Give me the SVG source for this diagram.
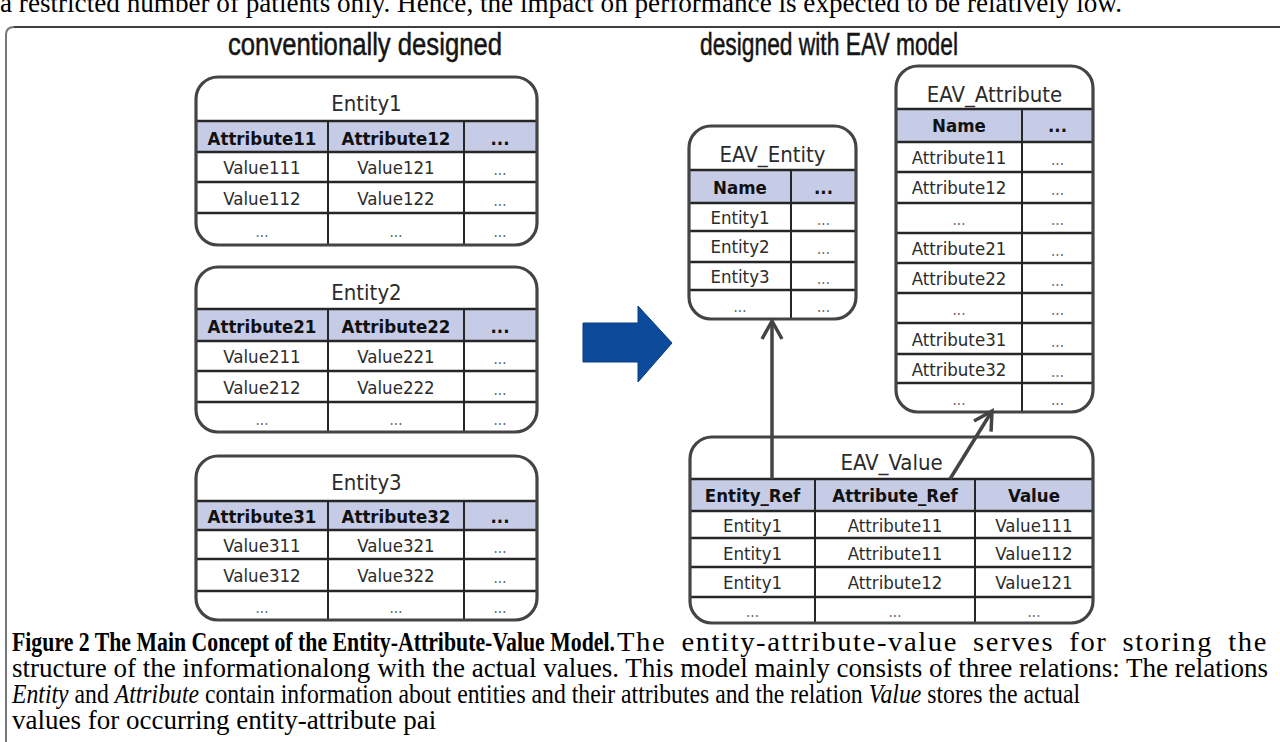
<svg xmlns="http://www.w3.org/2000/svg" width="1280" height="742" viewBox="0 0 1280 742">
<defs>
<style>
.bg{fill:#fff}
.box{fill:none;stroke:#444;stroke-width:3.2}
.hdr{fill:#c6cce6}
.hl{stroke:#262626;stroke-width:2.6}
.vl{stroke:#262626;stroke-width:2}
.t{font-family:"DejaVu Sans Condensed","DejaVu Sans",Verdana,sans-serif;font-stretch:condensed;font-size:18.5px;fill:#2b2b2b;text-anchor:middle}
.b{font-weight:bold;fill:#111}
.d{fill:#666;font-size:15px}
.db{fill:#111;font-weight:bold}
.ttl{font-size:22px;fill:#2b2b2b}
.head{font-family:"Liberation Sans",Arial,sans-serif;font-size:31px;fill:#141414;stroke:#141414;stroke-width:0.5;text-anchor:middle}
.cap{font-family:"Liberation Serif","Times New Roman",serif;font-size:27px;fill:#000}
.conn{stroke:#444;stroke-width:3.5;fill:none}
</style>
<marker id="chev" viewBox="-20 -12 24 24" refX="0" refY="0" markerWidth="24" markerHeight="24" markerUnits="userSpaceOnUse" orient="auto">
<path d="M-18,-10 L0,0 L-18,10" fill="none" stroke="#444" stroke-width="3.5" stroke-linejoin="miter"/>
</marker>
</defs>
<rect width="1280" height="742" fill="#fff"/>

<!-- page text and frame -->
<text class="cap" x="0" y="12" textLength="1122" lengthAdjust="spacingAndGlyphs">a restricted number of patients only. Hence, the impact on performance is expected to be relatively low.</text>
<path d="M1280,27 L14,27" stroke="#000" stroke-width="1.5" fill="none"/>
<path d="M6,742 L6,35 Q6,27 14,27" stroke="#777" stroke-width="2" fill="none"/>

<text class="head" x="365" y="55" textLength="274" lengthAdjust="spacingAndGlyphs">conventionally designed</text>
<text class="head" x="829" y="55" textLength="258" lengthAdjust="spacingAndGlyphs">designed with EAV model</text>

<!-- Entity1 -->
<g id="entity1">
<rect class="bg" x="196" y="77" width="341" height="168" rx="22"/>
<rect class="hdr" x="196" y="121" width="341" height="31"/>
<line class="hl" x1="196" y1="121" x2="537" y2="121"/>
<line class="hl" x1="196" y1="152" x2="537" y2="152"/>
<line class="hl" x1="196" y1="182" x2="537" y2="182"/>
<line class="hl" x1="196" y1="213" x2="537" y2="213"/>
<line class="vl" x1="328" y1="121" x2="328" y2="245"/>
<line class="vl" x1="464" y1="121" x2="464" y2="245"/>
<rect class="box" x="196" y="77" width="341" height="168" rx="22"/>
<text class="t ttl" x="366.5" y="111">Entity1</text>
<text class="t b" x="262" y="145">Attribute11</text>
<text class="t b" x="396" y="145">Attribute12</text>
<text class="t db" x="500" y="145">...</text>
<text class="t" x="262" y="174">Value111</text>
<text class="t" x="396" y="174">Value121</text>
<text class="t d" x="500" y="175">...</text>
<text class="t" x="262" y="205">Value112</text>
<text class="t" x="396" y="205">Value122</text>
<text class="t d" x="500" y="206">...</text>
<text class="t d" x="262" y="237">...</text>
<text class="t d" x="396" y="237">...</text>
<text class="t d" x="500" y="237">...</text>
</g>

<!-- Entity2 -->
<g id="entity2">
<rect class="bg" x="196" y="267" width="341" height="165" rx="22"/>
<rect class="hdr" x="196" y="309" width="341" height="32"/>
<line class="hl" x1="196" y1="309" x2="537" y2="309"/>
<line class="hl" x1="196" y1="341" x2="537" y2="341"/>
<line class="hl" x1="196" y1="371" x2="537" y2="371"/>
<line class="hl" x1="196" y1="402" x2="537" y2="402"/>
<line class="vl" x1="328" y1="309" x2="328" y2="432"/>
<line class="vl" x1="464" y1="309" x2="464" y2="432"/>
<rect class="box" x="196" y="267" width="341" height="165" rx="22"/>
<text class="t ttl" x="366.5" y="300">Entity2</text>
<text class="t b" x="262" y="333">Attribute21</text>
<text class="t b" x="396" y="333">Attribute22</text>
<text class="t db" x="500" y="333">...</text>
<text class="t" x="262" y="363">Value211</text>
<text class="t" x="396" y="363">Value221</text>
<text class="t d" x="500" y="364">...</text>
<text class="t" x="262" y="394">Value212</text>
<text class="t" x="396" y="394">Value222</text>
<text class="t d" x="500" y="395">...</text>
<text class="t d" x="262" y="425">...</text>
<text class="t d" x="396" y="425">...</text>
<text class="t d" x="500" y="425">...</text>
</g>

<!-- Entity3 -->
<g id="entity3">
<rect class="bg" x="196" y="456" width="341" height="164" rx="22"/>
<rect class="hdr" x="196" y="501" width="341" height="29"/>
<line class="hl" x1="196" y1="501" x2="537" y2="501"/>
<line class="hl" x1="196" y1="530" x2="537" y2="530"/>
<line class="hl" x1="196" y1="559" x2="537" y2="559"/>
<line class="hl" x1="196" y1="591" x2="537" y2="591"/>
<line class="vl" x1="328" y1="501" x2="328" y2="620"/>
<line class="vl" x1="464" y1="501" x2="464" y2="620"/>
<rect class="box" x="196" y="456" width="341" height="164" rx="22"/>
<text class="t ttl" x="366.5" y="490">Entity3</text>
<text class="t b" x="262" y="523">Attribute31</text>
<text class="t b" x="396" y="523">Attribute32</text>
<text class="t db" x="500" y="523">...</text>
<text class="t" x="262" y="552">Value311</text>
<text class="t" x="396" y="552">Value321</text>
<text class="t d" x="500" y="553">...</text>
<text class="t" x="262" y="582">Value312</text>
<text class="t" x="396" y="582">Value322</text>
<text class="t d" x="500" y="583">...</text>
<text class="t d" x="262" y="613">...</text>
<text class="t d" x="396" y="613">...</text>
<text class="t d" x="500" y="613">...</text>
</g>

<!-- transformation arrow -->
<g id="transform-arrow">
<polygon points="583,323 638,323 638,306 672,343 638,382 638,362 583,362" fill="#0c4b9c" stroke="#0a3a7c" stroke-width="1"/>
</g>

<!-- EAV_Entity -->
<g id="eav-entity">
<rect class="bg" x="689" y="126" width="167" height="193" rx="22"/>
<rect class="hdr" x="689" y="170" width="167" height="33"/>
<line class="hl" x1="689" y1="170" x2="856" y2="170"/>
<line class="hl" x1="689" y1="203" x2="856" y2="203"/>
<line class="hl" x1="689" y1="231" x2="856" y2="231"/>
<line class="hl" x1="689" y1="262" x2="856" y2="262"/>
<line class="hl" x1="689" y1="290" x2="856" y2="290"/>
<line class="vl" x1="791" y1="170" x2="791" y2="319"/>
<rect class="box" x="689" y="126" width="167" height="193" rx="22"/>
<text class="t ttl" x="772.5" y="162">EAV_Entity</text>
<text class="t b" x="740" y="194">Name</text>
<text class="t db" x="823.5" y="194">...</text>
<text class="t" x="740" y="224">Entity1</text>
<text class="t d" x="823.5" y="225">...</text>
<text class="t" x="740" y="253">Entity2</text>
<text class="t d" x="823.5" y="254">...</text>
<text class="t" x="740" y="283">Entity3</text>
<text class="t d" x="823.5" y="284">...</text>
<text class="t d" x="740" y="312">...</text>
<text class="t d" x="823.5" y="312">...</text>
</g>

<!-- EAV_Attribute -->
<g id="eav-attribute">
<rect class="bg" x="896" y="66" width="197" height="346" rx="22"/>
<rect class="hdr" x="896" y="109" width="197" height="33"/>
<line class="hl" x1="896" y1="109" x2="1093" y2="109"/>
<line class="hl" x1="896" y1="142" x2="1093" y2="142"/>
<line class="hl" x1="896" y1="172" x2="1093" y2="172"/>
<line class="hl" x1="896" y1="203" x2="1093" y2="203"/>
<line class="hl" x1="896" y1="233" x2="1093" y2="233"/>
<line class="hl" x1="896" y1="263" x2="1093" y2="263"/>
<line class="hl" x1="896" y1="293" x2="1093" y2="293"/>
<line class="hl" x1="896" y1="323" x2="1093" y2="323"/>
<line class="hl" x1="896" y1="354" x2="1093" y2="354"/>
<line class="hl" x1="896" y1="383" x2="1093" y2="383"/>
<line class="vl" x1="1022" y1="109" x2="1022" y2="412"/>
<rect class="box" x="896" y="66" width="197" height="346" rx="22"/>
<text class="t ttl" x="994.5" y="102">EAV_Attribute</text>
<text class="t b" x="959" y="132">Name</text>
<text class="t db" x="1057.5" y="132">...</text>
<text class="t" x="959" y="164">Attribute11</text>
<text class="t d" x="1057.5" y="165">...</text>
<text class="t" x="959" y="194">Attribute12</text>
<text class="t d" x="1057.5" y="195">...</text>
<text class="t d" x="959" y="225">...</text>
<text class="t d" x="1057.5" y="225">...</text>
<text class="t" x="959" y="255">Attribute21</text>
<text class="t d" x="1057.5" y="256">...</text>
<text class="t" x="959" y="285">Attribute22</text>
<text class="t d" x="1057.5" y="286">...</text>
<text class="t d" x="959" y="315">...</text>
<text class="t d" x="1057.5" y="315">...</text>
<text class="t" x="959" y="346">Attribute31</text>
<text class="t d" x="1057.5" y="347">...</text>
<text class="t" x="959" y="376">Attribute32</text>
<text class="t d" x="1057.5" y="377">...</text>
<text class="t d" x="959" y="405">...</text>
<text class="t d" x="1057.5" y="405">...</text>
</g>

<!-- EAV_Value -->
<g id="eav-value">
<rect class="bg" x="690" y="437" width="403" height="186" rx="22"/>
<rect class="hdr" x="690" y="479" width="403" height="32"/>
<line class="hl" x1="690" y1="479" x2="1093" y2="479"/>
<line class="hl" x1="690" y1="511" x2="1093" y2="511"/>
<line class="hl" x1="690" y1="538" x2="1093" y2="538"/>
<line class="hl" x1="690" y1="567" x2="1093" y2="567"/>
<line class="hl" x1="690" y1="597" x2="1093" y2="597"/>
<line class="vl" x1="815" y1="479" x2="815" y2="623"/>
<line class="vl" x1="975" y1="479" x2="975" y2="623"/>
<rect class="box" x="690" y="437" width="403" height="186" rx="22"/>
<text class="t ttl" x="891.5" y="470">EAV_Value</text>
<text class="t b" x="752.5" y="502">Entity_Ref</text>
<text class="t b" x="895" y="502">Attribute_Ref</text>
<text class="t b" x="1034" y="502">Value</text>
<text class="t" x="752.5" y="532">Entity1</text>
<text class="t" x="895" y="532">Attribute11</text>
<text class="t" x="1034" y="532">Value111</text>
<text class="t" x="752.5" y="560">Entity1</text>
<text class="t" x="895" y="560">Attribute11</text>
<text class="t" x="1034" y="560">Value112</text>
<text class="t" x="752.5" y="589">Entity1</text>
<text class="t" x="895" y="589">Attribute12</text>
<text class="t" x="1034" y="589">Value121</text>
<text class="t d" x="752.5" y="617">...</text>
<text class="t d" x="895" y="617">...</text>
<text class="t d" x="1034" y="617">...</text>
</g>

<!-- connectors -->
<g id="connectors">
<line class="conn" x1="772" y1="479" x2="772" y2="321" marker-end="url(#chev)"/>
<line class="conn" x1="950" y1="479" x2="992" y2="411" marker-end="url(#chev)"/>
</g>

<!-- caption -->
<g id="caption">
<text class="cap" x="12" y="651" font-weight="bold" textLength="603" lengthAdjust="spacingAndGlyphs">Figure 2 The Main Concept of the Entity-Attribute-Value Model.</text>
<text class="cap" x="617" y="651" letter-spacing="1.5" word-spacing="6" textLength="651" lengthAdjust="spacingAndGlyphs">The entity-attribute-value serves for storing the</text>
<text class="cap" x="12" y="677" textLength="1256" lengthAdjust="spacingAndGlyphs">structure of the informationalong with the actual values. This model mainly consists of three relations: The relations</text>
<text class="cap" x="12" y="703" textLength="1068" lengthAdjust="spacingAndGlyphs"><tspan font-style="italic">Entity</tspan> and <tspan font-style="italic">Attribute</tspan> contain information about entities and their attributes and the relation <tspan font-style="italic">Value</tspan> stores the actual</text>
<text class="cap" x="12" y="729">values for occurring entity-attribute pai</text>
</g>
</svg>
